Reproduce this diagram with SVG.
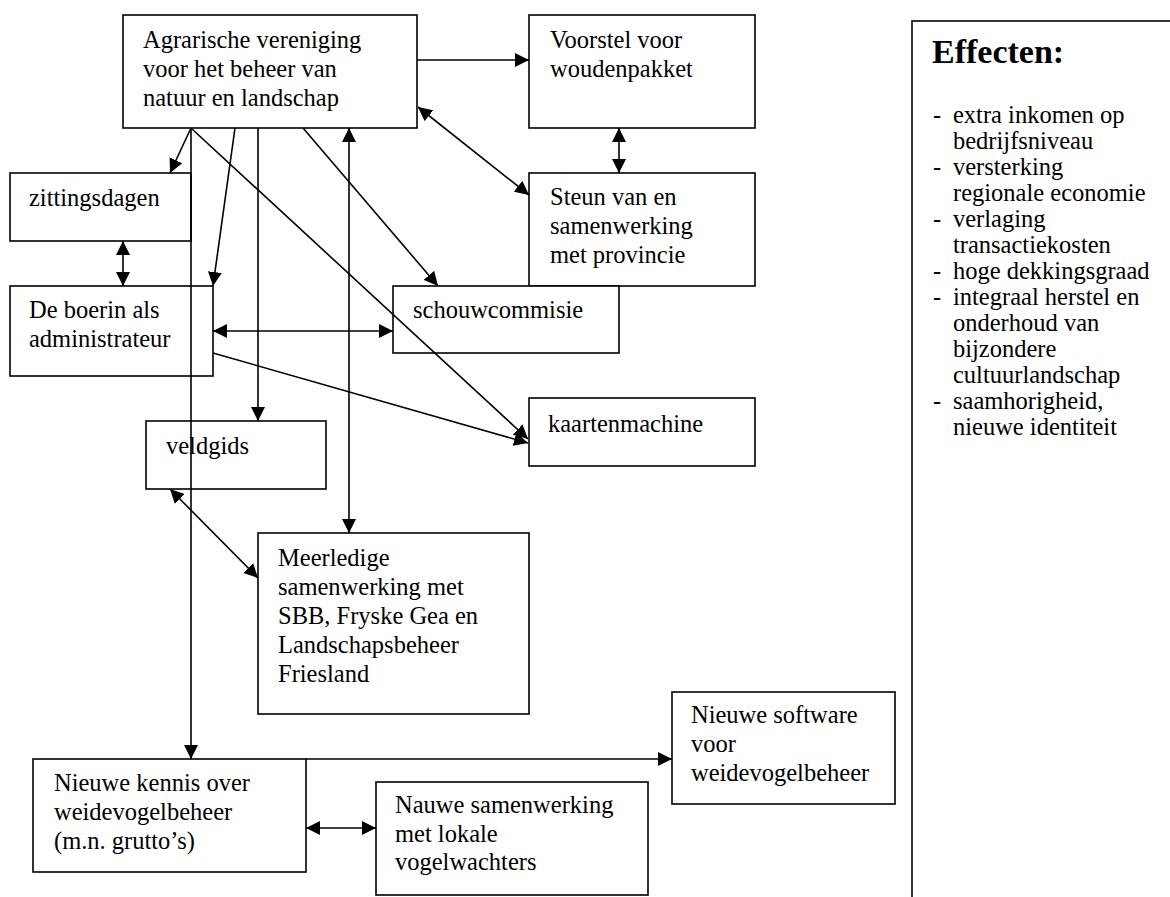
<svg xmlns="http://www.w3.org/2000/svg" width="1170" height="897" viewBox="0 0 1170 897">
<style>
.box{fill:#fff;stroke:#000;stroke-width:1.6}
.t{font-family:"Liberation Serif","Times New Roman",serif;font-size:24.5px;fill:#000}
.h{font-family:"Liberation Serif","Times New Roman",serif;font-size:34px;font-weight:bold;fill:#000}
.c{stroke:#000;stroke-width:1.6;fill:none}
.a{marker-end:url(#ah)}
.d{marker-start:url(#ah);marker-end:url(#ah)}
</style>
<defs>
<marker id="ah" markerUnits="userSpaceOnUse" markerWidth="16" markerHeight="14" refX="14" refY="7" orient="auto-start-reverse">
<path d="M0,0 L14,7 L0,14 Z" fill="#000"/>
</marker>
</defs>
<rect width="1170" height="897" fill="#fff"/>
<g id="nodes">
<g id="agrarische"><rect class="box" x="123" y="15" width="294" height="113"/>
<text class="t" x="143"><tspan x="143" y="48">Agrarische vereniging</tspan><tspan x="143" y="77">voor het beheer van</tspan><tspan x="143" y="106">natuur en landschap</tspan></text></g>
<g id="voorstel"><rect class="box" x="529" y="15" width="226" height="113"/>
<text class="t"><tspan x="550" y="48">Voorstel voor</tspan><tspan x="550" y="77">woudenpakket</tspan></text></g>
<g id="steun"><rect class="box" x="529" y="173" width="226" height="113"/>
<text class="t"><tspan x="550" y="205">Steun van en</tspan><tspan x="550" y="234">samenwerking</tspan><tspan x="550" y="263">met provincie</tspan></text></g>
<g id="zittingsdagen"><rect class="box" x="10" y="173" width="181" height="68"/>
<text class="t" x="29" y="206">zittingsdagen</text></g>
<g id="boerin"><rect class="box" x="10" y="286" width="203" height="90"/>
<text class="t"><tspan x="29" y="318">De boerin als</tspan><tspan x="29" y="347">administrateur</tspan></text></g>
<g id="schouwcommisie"><rect class="box" x="393" y="286" width="226" height="67"/>
<text class="t" x="413" y="318">schouwcommisie</text></g>
<g id="kaartenmachine"><rect class="box" x="529" y="398" width="226" height="68"/>
<text class="t" x="548" y="432">kaartenmachine</text></g>
<g id="veldgids"><rect class="box" x="146" y="421" width="180" height="68"/>
<text class="t" x="166" y="454">veldgids</text></g>
<g id="meerledige"><rect class="box" x="258" y="533" width="271" height="181"/>
<text class="t"><tspan x="278" y="566">Meerledige</tspan><tspan x="278" y="595">samenwerking met</tspan><tspan x="278" y="624">SBB, Fryske Gea en</tspan><tspan x="278" y="653">Landschapsbeheer</tspan><tspan x="278" y="682">Friesland</tspan></text></g>
<g id="software"><rect class="box" x="672" y="692" width="223" height="112"/>
<text class="t"><tspan x="691" y="723">Nieuwe software</tspan><tspan x="691" y="752">voor</tspan><tspan x="691" y="781">weidevogelbeheer</tspan></text></g>
<g id="kennis"><rect class="box" x="33" y="759" width="273" height="113"/>
<text class="t"><tspan x="54" y="791">Nieuwe kennis over</tspan><tspan x="54" y="820">weidevogelbeheer</tspan><tspan x="54" y="849">(m.n. grutto’s)</tspan></text></g>
<g id="nauwe"><rect class="box" x="376" y="782" width="272" height="113"/>
<text class="t"><tspan x="395" y="813">Nauwe samenwerking</tspan><tspan x="395" y="842">met lokale</tspan><tspan x="395" y="870">vogelwachters</tspan></text></g>
<g id="effecten"><rect class="box" x="912" y="21" width="300" height="900"/>
<text class="h" x="932" y="63">Effecten:</text>
<g class="t">
<text x="933" y="123">-</text><text x="953" y="123">extra inkomen op</text>
<text x="953" y="149">bedrijfsniveau</text>
<text x="933" y="175">-</text><text x="953" y="175">versterking</text>
<text x="953" y="201">regionale economie</text>
<text x="933" y="227">-</text><text x="953" y="227">verlaging</text>
<text x="953" y="253">transactiekosten</text>
<text x="933" y="279">-</text><text x="953" y="279">hoge dekkingsgraad</text>
<text x="933" y="305">-</text><text x="953" y="305">integraal herstel en</text>
<text x="953" y="331">onderhoud van</text>
<text x="953" y="357">bijzondere</text>
<text x="953" y="383">cultuurlandschap</text>
<text x="933" y="409">-</text><text x="953" y="409">saamhorigheid,</text>
<text x="953" y="435">nieuwe identiteit</text>
</g></g>
</g>
<g id="connectors" class="c">
<line class="c a" x1="417" y1="60" x2="529" y2="60"/>
<line class="c d" x1="619" y1="128" x2="619" y2="173"/>
<line class="c d" x1="418" y1="107" x2="529" y2="195"/>
<line class="c a" x1="191" y1="128" x2="170" y2="173"/>
<line class="c a" x1="191" y1="128" x2="191" y2="759"/>
<line class="c a" x1="235" y1="128" x2="213" y2="286"/>
<line class="c d" x1="123" y1="241" x2="123" y2="286"/>
<line class="c a" x1="258" y1="128" x2="258" y2="421"/>
<line class="c d" x1="349" y1="128" x2="349" y2="533"/>
<line class="c a" x1="303" y1="128" x2="438" y2="286"/>
<line class="c a" x1="192" y1="129" x2="528" y2="439"/>
<line class="c a" x1="213" y1="353" x2="528" y2="443"/>
<line class="c d" x1="213" y1="331" x2="393" y2="331"/>
<line class="c d" x1="170" y1="489" x2="258" y2="578"/>
<line class="c a" x1="306" y1="759" x2="672" y2="759"/>
<line class="c d" x1="306" y1="828" x2="376" y2="828"/>
</g>
</svg>
